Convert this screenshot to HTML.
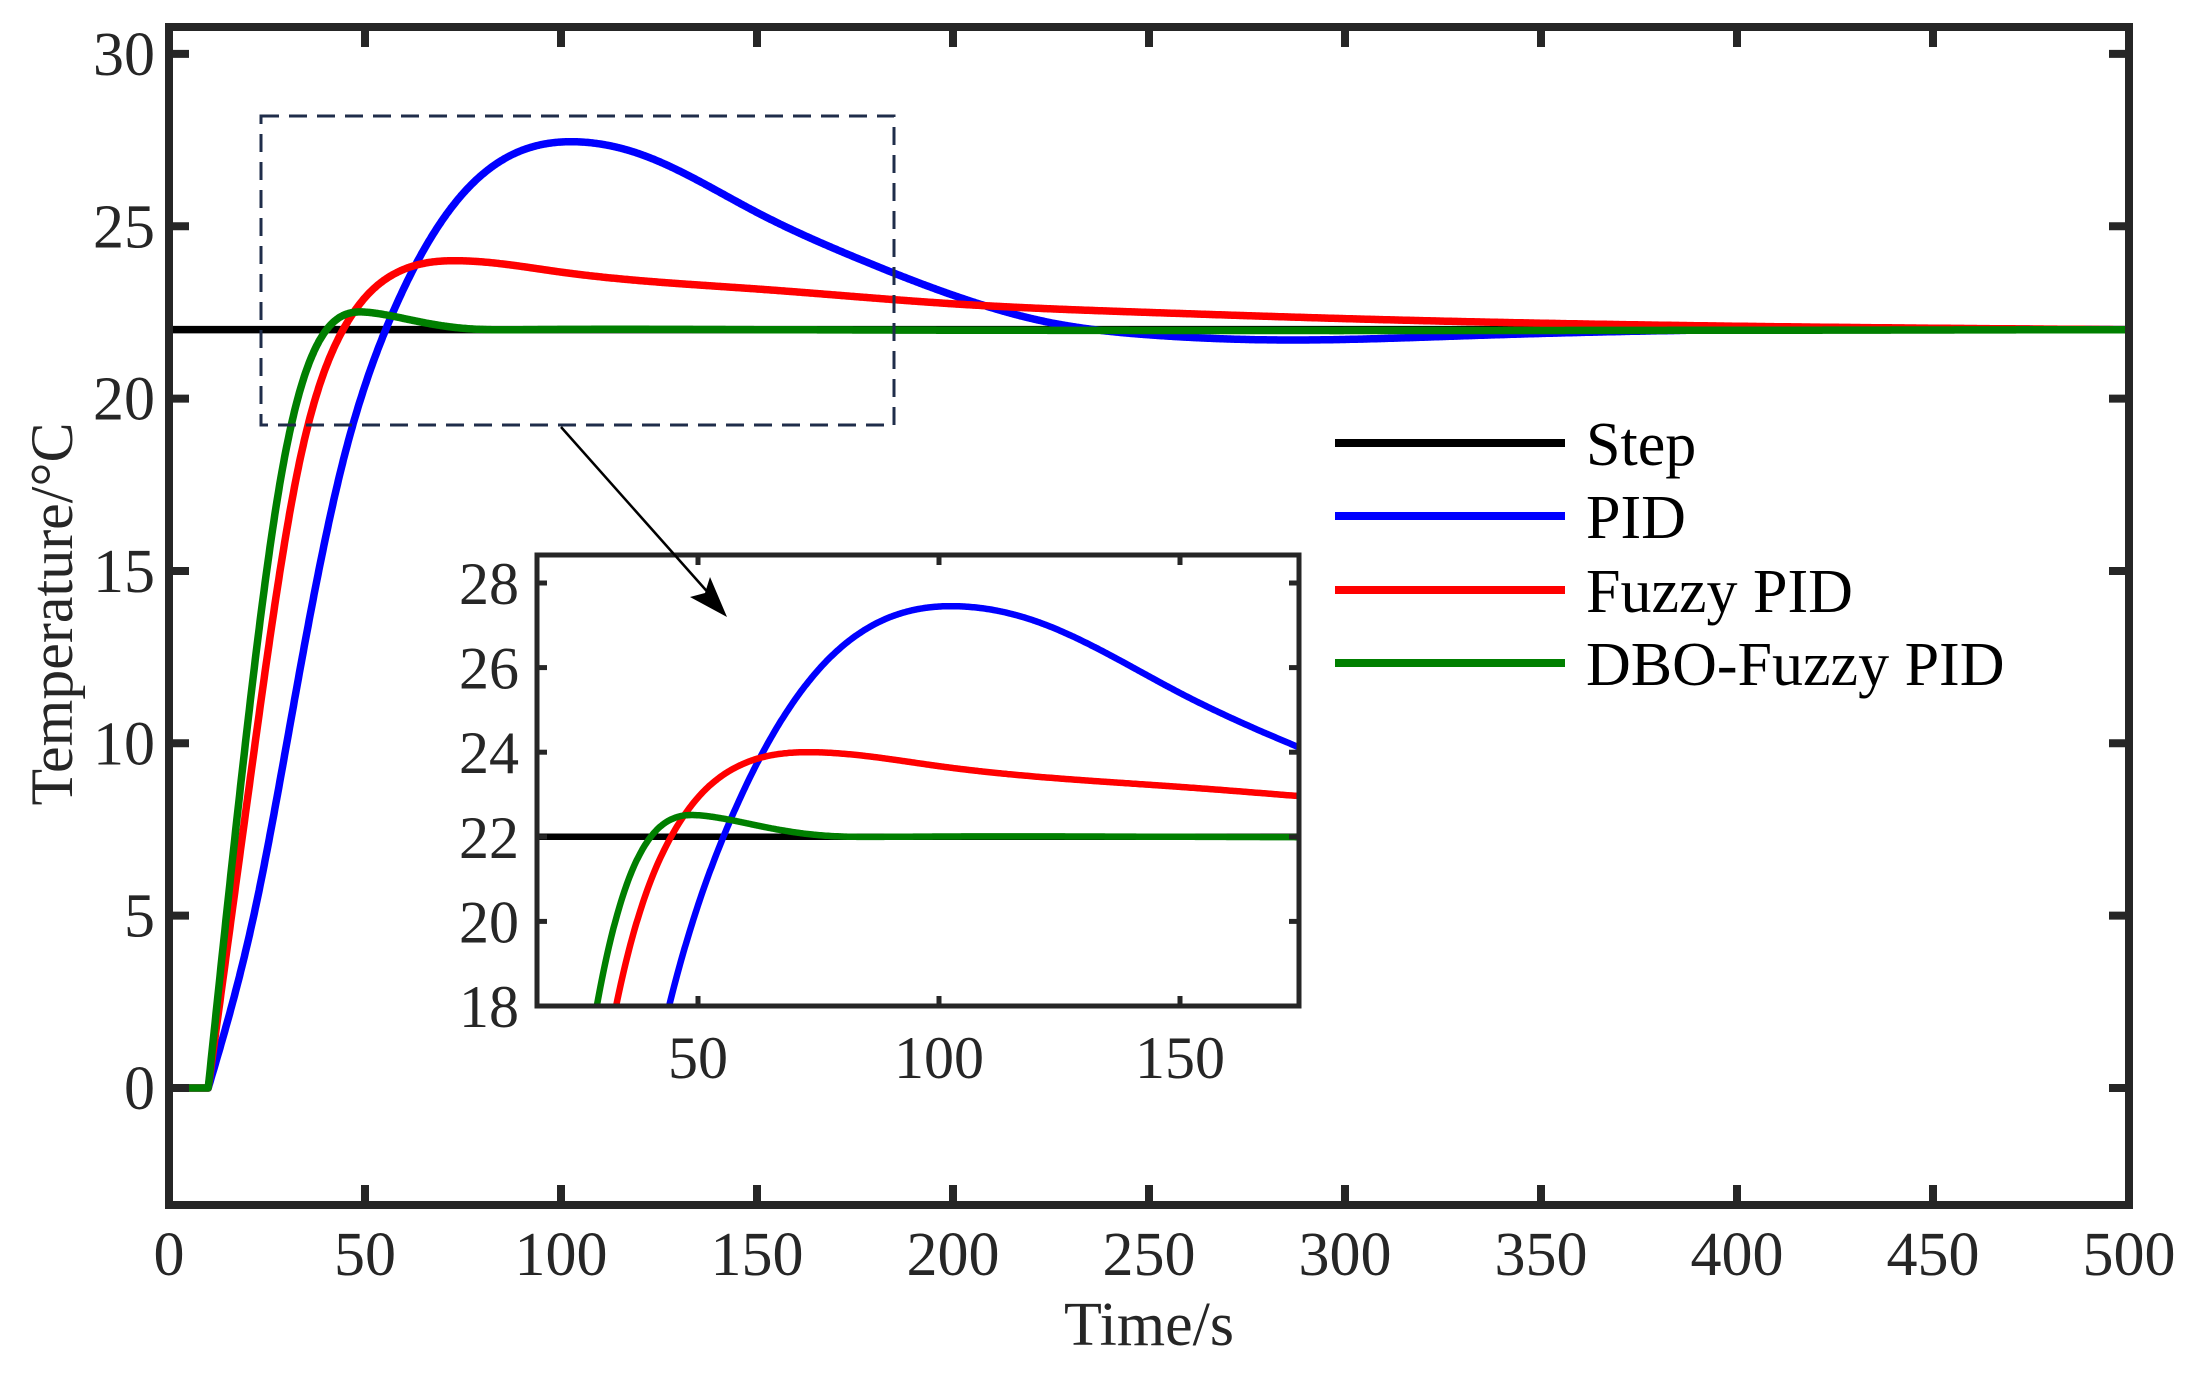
<!DOCTYPE html>
<html><head><meta charset="utf-8"><style>
html,body{margin:0;padding:0;background:#fff;overflow:hidden;width:2197px;height:1377px;}
svg{position:absolute;left:0;top:0;display:block;font-family:"Liberation Serif",serif;}
</style></head><body>
<svg id="s" width="2197" height="1377" viewBox="0 0 2197 1377" xmlns="http://www.w3.org/2000/svg">
<defs>
<clipPath id="cm"><rect x="169" y="27" width="1960" height="1178"/></clipPath>
<clipPath id="ci"><rect x="537" y="555" width="762" height="451"/></clipPath>
</defs>
<rect width="2197" height="1377" fill="#fff"/>
<g id="main" clip-path="url(#cm)"></g>
<g id="axes" stroke="#262626" stroke-width="8" fill="none"></g>
<g id="lab" font-size="62" fill="#262626"></g>
<text x="1149" y="1345" font-size="62" text-anchor="middle" fill="#262626">Time/s</text>
<text transform="translate(72,614) rotate(-90)" font-size="60" text-anchor="middle" fill="#262626">Temperature/°C</text>
<rect x="261" y="116" width="633" height="309" fill="none" stroke="#1f2d4a" stroke-width="3" stroke-dasharray="18,10"/>
<rect x="537" y="555" width="762" height="451" fill="#fff"/>
<g id="ins" clip-path="url(#ci)"></g>
<g id="iax" stroke="#262626" stroke-width="5" fill="none"></g>
<g id="ilab" font-size="60" fill="#262626"></g>
<line x1="561" y1="427" x2="712" y2="597" stroke="#000" stroke-width="2.5"/>
<polygon points="727,617 690,597 705,593 710,577" fill="#000"/>
<g font-size="62" fill="#000">
<line x1="1335" y1="443" x2="1565" y2="443" stroke="#000" stroke-width="8"/>
<line x1="1335" y1="516" x2="1565" y2="516" stroke="#0000ff" stroke-width="8"/>
<line x1="1335" y1="590" x2="1565" y2="590" stroke="#ff0000" stroke-width="8"/>
<line x1="1335" y1="663" x2="1565" y2="663" stroke="#007f00" stroke-width="8"/>
<text x="1586" y="465">Step</text>
<text x="1586" y="538">PID</text>
<text x="1586" y="612">Fuzzy PID</text>
<text x="1586" y="685">DBO-Fuzzy PID</text>
</g>
</svg>
<script>
var NS="http://www.w3.org/2000/svg";
function el(p,t,a,txt){var e=document.createElementNS(NS,t);for(var k in a)e.setAttribute(k,a[k]);if(txt!==undefined)e.textContent=txt;document.getElementById(p).appendChild(e);return e;}
function spl(P){var n=P.length,x=P.map(function(p){return p[0]}),y=P.map(function(p){return p[1]});
var h=[],al=[],l=[1],mu=[0],z=[0],c=[],b=[],d=[];for(var i=0;i<n-1;i++)h[i]=x[i+1]-x[i];
for(i=1;i<n-1;i++)al[i]=3/h[i]*(y[i+1]-y[i])-3/h[i-1]*(y[i]-y[i-1]);
for(i=1;i<n-1;i++){l[i]=2*(x[i+1]-x[i-1])-h[i-1]*mu[i-1];mu[i]=h[i]/l[i];z[i]=(al[i]-h[i-1]*z[i-1])/l[i];}
c[n-1]=0;for(var j=n-2;j>=0;j--){c[j]=z[j]-mu[j]*c[j+1];b[j]=(y[j+1]-y[j])/h[j]-h[j]*(c[j+1]+2*c[j])/3;d[j]=(c[j+1]-c[j])/(3*h[j]);}
return function(t){if(t<=10)return 0;for(var i=0;i<n-1;i++)if(t<=x[i+1])break;if(i>=n-1)i=n-2;var u=t-x[i];return y[i]+b[i]*u+c[i]*u*u+d[i]*u*u*u;};}
var pid=spl([[10,0],[22,5.2],[34,12.5],[44,18],[56,22.2],[75,25.95],[90,27.2],[104,27.45],[120,27.1],[150,25.4],[175,24.1],[200,23.0],[225,22.2],[250,21.85],[285,21.7],[330,21.82],[400,22.0],[500,22]]);
var fz=spl([[10,0],[21,9.2],[33,18],[44.4,22],[58,23.65],[73.5,24.0],[100,23.67],[150,23.18],[200,22.75],[250,22.5],[300,22.32],[400,22.1],[500,22]]);
var db=spl([[10,0],[20,10.5],[29,18],[40.2,22],[51,22.5],[63,22.25],[75,22.04],[90,22],[150,22],[500,22]]);
function path(f,X,Y,t0,t1){var s="";for(var t=t0;t<=t1+1e-9;t+=0.25){s+=(s?"L":"M")+X(t).toFixed(1)+","+Y(f(t)).toFixed(1);}return s;}
var MX=function(t){return 169+t*3.92},MY=function(v){return 1088-v*34.47};
var IX=function(t){return 698+(t-50)*4.82},IY=function(v){return 583+(28-v)*42.3};
[["main",MX,MY,7.5,0,500],["ins",IX,IY,6.5,10,180]].forEach(function(c){
 el(c[0],"line",{x1:c[1](0),y1:c[2](22),x2:c[1](500),y2:c[2](22),stroke:"#000","stroke-width":c[3]});
 el(c[0],"path",{d:path(pid,c[1],c[2],c[4],c[5]),stroke:"#0000ff","stroke-width":c[3],fill:"none","stroke-linejoin":"round"});
 el(c[0],"path",{d:path(fz,c[1],c[2],c[4],c[5]),stroke:"#ff0000","stroke-width":c[3],fill:"none","stroke-linejoin":"round"});
 el(c[0],"path",{d:path(db,c[1],c[2],c[4],c[5]),stroke:"#007f00","stroke-width":c[3],fill:"none","stroke-linejoin":"round"});
});
el("axes","rect",{x:169,y:27,width:1960,height:1178});
for(var t=0;t<=500;t+=50){var x=MX(t);el("axes","line",{x1:x,y1:1205,x2:x,y2:1185});el("axes","line",{x1:x,y1:27,x2:x,y2:47});
 el("lab","text",{x:x,y:1275,"text-anchor":"middle"},String(t));}
for(var v=0;v<=30;v+=5){var y=MY(v);el("axes","line",{x1:169,y1:y,x2:189,y2:y});el("axes","line",{x1:2129,y1:y,x2:2109,y2:y});
 el("lab","text",{x:155,y:y+21,"text-anchor":"end"},String(v));}
el("iax","rect",{x:537,y:555,width:762,height:451});
[50,100,150].forEach(function(t){var x=IX(t);el("iax","line",{x1:x,y1:1006,x2:x,y2:996});el("iax","line",{x1:x,y1:555,x2:x,y2:565});
 el("ilab","text",{x:x,y:1078,"text-anchor":"middle"},String(t));});
[18,20,22,24,26,28].forEach(function(v){var y=IY(v);el("iax","line",{x1:537,y1:y,x2:547,y2:y});el("iax","line",{x1:1299,y1:y,x2:1289,y2:y});
 el("ilab","text",{x:519,y:y+21,"text-anchor":"end"},String(v));});
</script>
</body></html>
